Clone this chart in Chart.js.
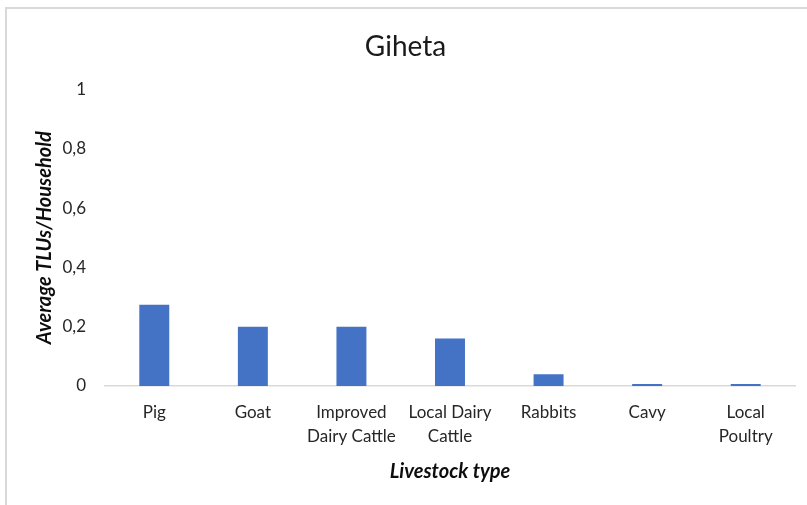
<!DOCTYPE html>
<html>
<head>
<meta charset="utf-8">
<script src="https://cdn.jsdelivr.net/npm/chart.js@4/dist/chart.umd.min.js"></script>
<style>
  html, body { margin: 0; padding: 0; background: #ffffff; }
  #wrap { position: relative; width: 807px; height: 505px; overflow: hidden; }
  #frame { position: absolute; left: 5px; top: 7px; right: -4px; bottom: -4px;
           border-left: 2px solid #d9d9d9; border-top: 2px solid #d9d9d9; }
  #chart { position: absolute; left: 0; top: 0; }
</style>
</head>
<body>
<div id="wrap">
  <div id="frame"></div>
  <canvas id="chart" width="807" height="505"></canvas>
</div>
<script>
// Average tropical livestock units per household, Giheta
const categories = [
  ['Pig'], ['Goat'], ['Improved', 'Dairy Cattle'], ['Local Dairy', 'Cattle'],
  ['Rabbits'], ['Cavy'], ['Local', 'Poultry']
];
const tluValues = [0.274, 0.2, 0.2, 0.16, 0.04, 0.007, 0.007];
const yTickLabels = ['0', '0,2', '0,4', '0,6', '0,8', '1'];

const FONT = 'Lato, "Noto Sans", sans-serif';

new Chart(document.getElementById('chart'), {
  type: 'bar',
  data: {
    labels: categories,
    datasets: [{
      label: 'Average TLUs/Household',
      data: tluValues,
      backgroundColor: '#4472C4',
      borderWidth: 0,
      categoryPercentage: 0.8,
      barPercentage: 0.38
    }]
  },
  options: {
    responsive: false,
    animation: false,
    devicePixelRatio: 1,
    layout: { padding: { left: 16, right: 12, top: 0, bottom: 0 } },
    plugins: {
      legend: { display: false },
      tooltip: { enabled: false },
      title: {
        display: true,
        text: 'Giheta',
        color: '#1a1a1a',
        font: { family: FONT, size: 28, weight: 'normal', lineHeight: 1.2 },
        padding: { top: 30, bottom: 26 }
      }
    },
    scales: {
      x: {
        grid: { display: true, drawOnChartArea: false, drawTicks: false },
        border: { display: true, color: '#d9d9d9', width: 1.5 },
        ticks: {
          color: '#262626',
          font: { family: FONT, size: 17, lineHeight: 1.4 },
          padding: 15,
          maxRotation: 0,
          autoSkip: false
        },
        title: {
          display: true,
          text: 'Livestock type',
          color: '#0d0d0d',
          font: { family: FONT, size: 20, weight: 'bold', style: 'italic', lineHeight: 1.2 },
          padding: { top: 0, bottom: 21 }
        },
        afterFit(scale) { scale.height = 119; }
      },
      y: {
        min: 0,
        max: 1,
        grid: { display: false, drawTicks: false },
        border: { display: false },
        ticks: {
          stepSize: 0.2,
          color: '#262626',
          font: { family: FONT, size: 17 },
          padding: 19,
          callback: (value, index) => yTickLabels[index]
        },
        title: {
          display: true,
          text: 'Average TLUs/Household',
          color: '#0d0d0d',
          font: { family: FONT, size: 20, weight: 'bold', style: 'italic', lineHeight: 1.2 },
          padding: { top: 17, bottom: 0 }
        },
        afterFit(scale) { scale.width = 89; }
      }
    }
  }
});
</script>
</body>
</html>
